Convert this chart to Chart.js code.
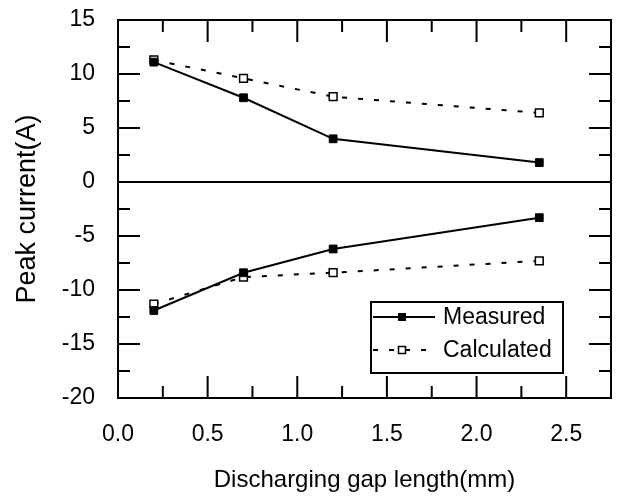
<!DOCTYPE html>
<html>
<head>
<meta charset="utf-8">
<script src="https://cdn.jsdelivr.net/npm/chart.js@4/dist/chart.umd.min.js"></script>
<style>
  html, body { margin: 0; padding: 0; background: #fff; }
  #wrap { width: 623px; height: 497px; }
</style>
</head>
<body>
<div id="wrap"><canvas id="c" width="623" height="497"></canvas></div>
<script>
// ---- data ----
const gapLengths = [0.2, 0.7, 1.2, 2.35];              // mm
const measuredPositive   = [11.1, 7.8, 4.0, 1.8];      // A
const measuredNegative   = [-11.9, -8.4, -6.2, -3.3];  // A
const calculatedPositive = [11.3, 9.6, 7.9, 6.4];      // A
const calculatedNegative = [-11.3, -8.8, -8.4, -7.3];  // A
const seriesNames = ['Measured', 'Calculated'];
const xAxisTitle = 'Discharging gap length(mm)';
const yAxisTitle = 'Peak current(A)';

const FONT = "'Liberation Sans', Arial, Helvetica, sans-serif";
const toPoints = (xs, ys) => xs.map((x, i) => ({ x: x, y: ys[i] }));
const isMultiple = (v, step) => Math.abs(v / step - Math.round(v / step)) < 1e-6;

const measuredStyle = {
  borderColor: '#000', borderWidth: 2, tension: 0, fill: false,
  pointStyle: 'rect', pointRadius: 5.5, pointHoverRadius: 5.5,
  pointBackgroundColor: '#000', pointBorderColor: '#000', pointBorderWidth: 1
};
const calculatedStyle = {
  borderColor: '#000', borderWidth: 2, borderDash: [5, 11], tension: 0, fill: false,
  pointStyle: 'rect', pointRadius: 5.5, pointHoverRadius: 5.5,
  pointBackgroundColor: '#fff', pointBorderColor: '#000', pointBorderWidth: 1.5
};

const datasets = [
  Object.assign({ label: seriesNames[0], data: toPoints(gapLengths, measuredPositive) }, measuredStyle),
  Object.assign({ label: seriesNames[0], data: toPoints(gapLengths, measuredNegative) }, measuredStyle),
  Object.assign({ label: seriesNames[1], data: toPoints(gapLengths, calculatedPositive) }, calculatedStyle),
  Object.assign({ label: seriesNames[1], data: toPoints(gapLengths, calculatedNegative) }, calculatedStyle)
];

// frame, inward ticks on all four sides, zero line
const framePlugin = {
  id: 'frame',
  beforeDatasetsDraw(chart) {
    const { ctx, chartArea: a, scales } = chart;
    ctx.save();
    ctx.strokeStyle = '#000';
    ctx.lineWidth = 2;
    ctx.lineCap = 'butt';
    const y0 = scales.y.getPixelForValue(0);
    ctx.beginPath(); ctx.moveTo(a.left, y0); ctx.lineTo(a.right, y0); ctx.stroke();
    scales.x.ticks.forEach(t => {
      const px = scales.x.getPixelForValue(t.value);
      const len = isMultiple(t.value, 0.5) ? 22 : 12;
      ctx.beginPath();
      ctx.moveTo(px, a.bottom); ctx.lineTo(px, a.bottom - len);
      ctx.moveTo(px, a.top); ctx.lineTo(px, a.top + len);
      ctx.stroke();
    });
    scales.y.ticks.forEach(t => {
      const py = scales.y.getPixelForValue(t.value);
      const len = isMultiple(t.value, 5) ? 22 : 12;
      ctx.beginPath();
      ctx.moveTo(a.left, py); ctx.lineTo(a.left + len, py);
      ctx.moveTo(a.right, py); ctx.lineTo(a.right - len, py);
      ctx.stroke();
    });
    ctx.strokeRect(a.left, a.top, a.right - a.left, a.bottom - a.top);
    ctx.restore();
  }
};

// boxed legend inside the plot, lower right
const legendPlugin = {
  id: 'boxLegend',
  afterDraw(chart) {
    const { ctx, chartArea: a } = chart;
    const w = 192, h = 71;
    const bx = a.right - 48 - w, by = a.bottom - 25 - h;
    ctx.save();
    ctx.fillStyle = '#fff';
    ctx.fillRect(bx, by, w, h);
    ctx.strokeStyle = '#000';
    ctx.lineWidth = 2;
    ctx.strokeRect(bx, by, w, h);
    const rows = [
      { ds: chart.data.datasets[0], y: by + 15 },
      { ds: chart.data.datasets[2], y: by + 48 }
    ];
    rows.forEach(r => {
      const ds = r.ds;
      ctx.strokeStyle = ds.borderColor;
      ctx.lineWidth = ds.borderWidth;
      ctx.setLineDash(ds.borderDash || []);
      ctx.beginPath(); ctx.moveTo(bx + 2, r.y); ctx.lineTo(bx + 64, r.y); ctx.stroke();
      ctx.setLineDash([]);
      const s = 7;
      ctx.fillStyle = ds.pointBackgroundColor;
      ctx.fillRect(bx + 31 - s / 2, r.y - s / 2, s, s);
      ctx.lineWidth = ds.pointBorderWidth;
      ctx.strokeStyle = ds.pointBorderColor;
      ctx.strokeRect(bx + 31 - s / 2, r.y - s / 2, s, s);
      ctx.fillStyle = '#000';
      ctx.font = '23px ' + FONT;
      ctx.textAlign = 'left';
      ctx.textBaseline = 'middle';
      ctx.fillText(ds.label, bx + 72, r.y + 1);
    });
    ctx.restore();
  }
};

Chart.defaults.font.family = FONT;
Chart.defaults.color = '#000';

new Chart(document.getElementById('c'), {
  type: 'line',
  data: { datasets: datasets },
  options: {
    responsive: false,
    animation: false,
    events: [],
    layout: { padding: { top: 20, right: 12, bottom: 0, left: 0 } },
    plugins: { legend: { display: false }, tooltip: { enabled: false } },
    scales: {
      x: {
        type: 'linear', min: 0, max: 2.75,
        grid: { display: false, drawTicks: true, tickLength: 23 },
        border: { display: false },
        ticks: {
          stepSize: 0.25, padding: 0, maxRotation: 0, autoSkip: false,
          font: { size: 23 },
          callback: v => isMultiple(v, 0.5) ? Number(v).toFixed(1) : ''
        },
        title: { display: true, text: xAxisTitle, font: { size: 24 }, padding: { top: 0, bottom: 2 } },
        afterFit: s => { s.height = 99; }
      },
      y: {
        type: 'linear', min: -20, max: 15,
        grid: { display: false, drawTicks: true, tickLength: 23 },
        border: { display: false },
        ticks: {
          stepSize: 2.5, padding: 0, autoSkip: false,
          font: { size: 23 },
          callback: v => isMultiple(v, 5) ? String(Math.round(v)) : ''
        },
        title: { display: true, text: yAxisTitle, font: { size: 27 }, padding: { top: 11, bottom: 0 } },
        afterFit: s => { s.width = 118; }
      }
    }
  },
  plugins: [framePlugin, legendPlugin]
});
</script>
</body>
</html>
